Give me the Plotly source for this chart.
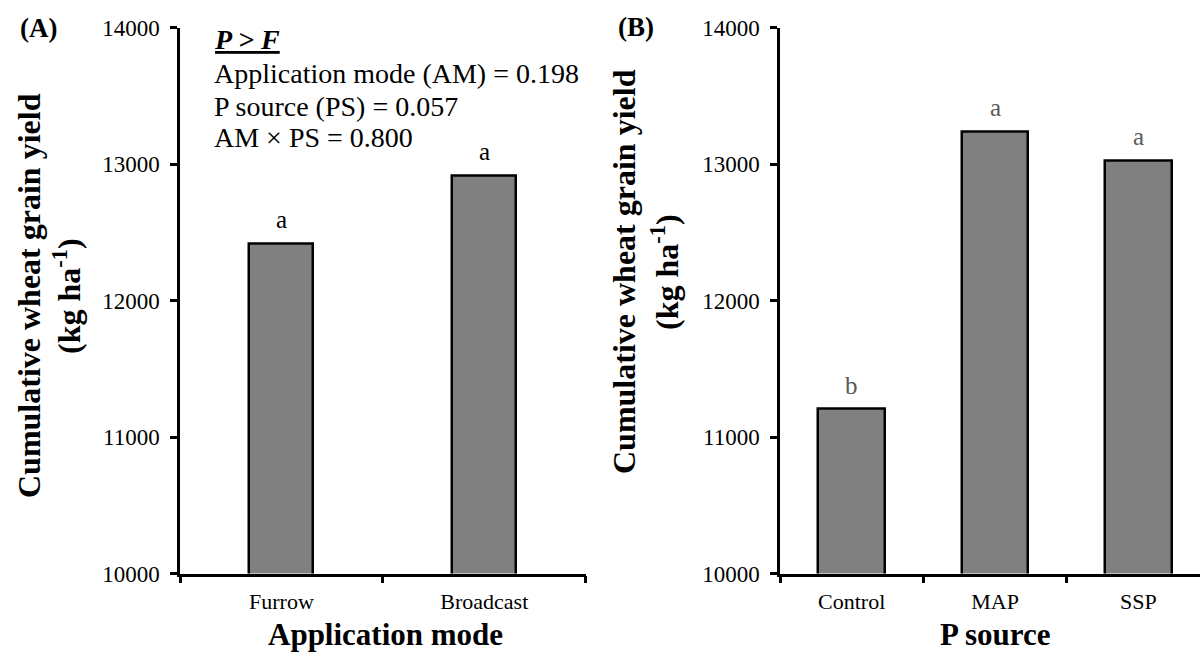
import plotly.graph_objects as go

# Panel A: cumulative wheat grain yield by application mode
mode_labels = ["Furrow", "Broadcast"]
mode_yield = [12420, 12918]
mode_letters = ["a", "a"]

# Panel B: cumulative wheat grain yield by P source
source_labels = ["Control", "MAP", "SSP"]
source_yield = [11205, 13240, 13028]
source_letters = ["b", "a", "a"]

y_ticks = [10000, 11000, 12000, 13000, 14000]
y_range = [10000, 14000]

# ANOVA summary lines (P > F)
stats_lines = [
    "<b><i><u>P > F</u></i></b>",
    "Application mode (AM) = 0.198",
    "P source (PS) = 0.057",
    "AM × PS = 0.800",
]

W, H = 1200, 653
FONT = "Liberation Serif"
BAR_FILL = "#808080"


def px_x(v):
    return v / W


def px_y(v):
    return 1 - v / H


fig = go.Figure()

fig.add_trace(go.Bar(
    x=mode_labels, y=mode_yield, width=0.315,
    marker=dict(color=BAR_FILL, line=dict(color="black", width=2.5)),
    xaxis="x", yaxis="y", showlegend=False, hoverinfo="x+y",
))
fig.add_trace(go.Bar(
    x=source_labels, y=source_yield, width=0.465,
    marker=dict(color=BAR_FILL, line=dict(color="black", width=2.5)),
    xaxis="x2", yaxis="y2", showlegend=False, hoverinfo="x+y",
))

y_dom = [px_y(573.5), px_y(27.7)]

common_x = dict(
    type="category", showline=True, linecolor="black", linewidth=2.5,
    ticks="outside", tickson="boundaries", ticklen=7, tickwidth=2.5,
    tickcolor="black", showgrid=False, zeroline=False,
    tickfont=dict(family=FONT, size=22, color="black"),
    ticklabelstandoff=6, automargin=False, fixedrange=True,
)
common_y = dict(
    range=y_range, tickvals=y_ticks, tickformat="d", showline=True,
    linecolor="black", linewidth=2.5, ticks="outside", ticklen=7,
    tickwidth=2.5, tickcolor="black", showgrid=False, zeroline=False,
    tickfont=dict(family=FONT, size=23, color="black"),
    ticklabelstandoff=6, automargin=False, fixedrange=True,
)

fig.update_layout(
    width=W, height=H,
    margin=dict(l=0, r=0, t=0, b=0),
    paper_bgcolor="white", plot_bgcolor="white",
    font=dict(family=FONT, color="black"),
    xaxis=dict(domain=[px_x(180), px_x(585.7)], range=[-0.5, 1.5],
               anchor="y", **common_x),
    yaxis=dict(domain=y_dom, anchor="x", **common_y),
    xaxis2=dict(domain=[px_x(780), 1.0], range=[-0.5, 2.43],
                anchor="y2", **common_x),
    yaxis2=dict(domain=y_dom, anchor="x2", **common_y),
    bargap=0,
)

annotations = []

# significance letters above the bars
for lab, val, let in zip(mode_labels, mode_yield, mode_letters):
    annotations.append(dict(
        x=lab, y=val, xref="x", yref="y", text=let, showarrow=False,
        yanchor="bottom", yshift=8,
        font=dict(family=FONT, size=25, color="black"),
    ))
for lab, val, let in zip(source_labels, source_yield, source_letters):
    annotations.append(dict(
        x=lab, y=val, xref="x2", yref="y2", text=let, showarrow=False,
        yanchor="bottom", yshift=8,
        font=dict(family=FONT, size=25, color="#595959"),
    ))

# x-axis titles, sitting on the bottom edge of the figure
for label, xc in [("Application mode", 385), ("P source", 995)]:
    annotations.append(dict(
        x=px_x(xc), y=0, xref="paper", yref="paper",
        text=f"<b>{label}</b>", showarrow=False, borderpad=0,
        xanchor="center", yanchor="bottom",
        font=dict(family=FONT, size=31, color="black"),
    ))

# y-axis titles, one annotation per line
for (x1, x2, yc) in [(29, 67, 296), (624, 665, 272)]:
    annotations.append(dict(
        x=px_x(x1), y=px_y(yc), xref="paper", yref="paper",
        text="<b>Cumulative wheat grain yield</b>", showarrow=False,
        textangle=-90, xanchor="center", yanchor="middle",
        font=dict(family=FONT, size=32, color="black"),
    ))
    annotations.append(dict(
        x=px_x(x2), y=px_y(yc), xref="paper", yref="paper",
        text="<b>(kg ha<sup>-1</sup>)</b>", showarrow=False,
        textangle=-90, xanchor="center", yanchor="middle",
        font=dict(family=FONT, size=32, color="black"),
    ))

# panel tags
annotations.append(dict(
    x=px_x(38), y=px_y(28), xref="paper", yref="paper",
    text="<b>(A)</b>", showarrow=False, xanchor="center", yanchor="middle",
    font=dict(family=FONT, size=27, color="black"),
))
annotations.append(dict(
    x=px_x(636), y=px_y(27), xref="paper", yref="paper",
    text="<b>(B)</b>", showarrow=False, xanchor="center", yanchor="middle",
    font=dict(family=FONT, size=27, color="black"),
))

# ANOVA summary, one line at a time
for line, yc in zip(stats_lines, [40, 73, 106, 138]):
    annotations.append(dict(
        x=px_x(212), y=px_y(yc), xref="paper", yref="paper",
        text=line, showarrow=False, align="left",
        xanchor="left", yanchor="middle",
        font=dict(family=FONT, size=28, color="black"),
    ))

fig.update_layout(annotations=annotations)

fig.write_html("out.html")
